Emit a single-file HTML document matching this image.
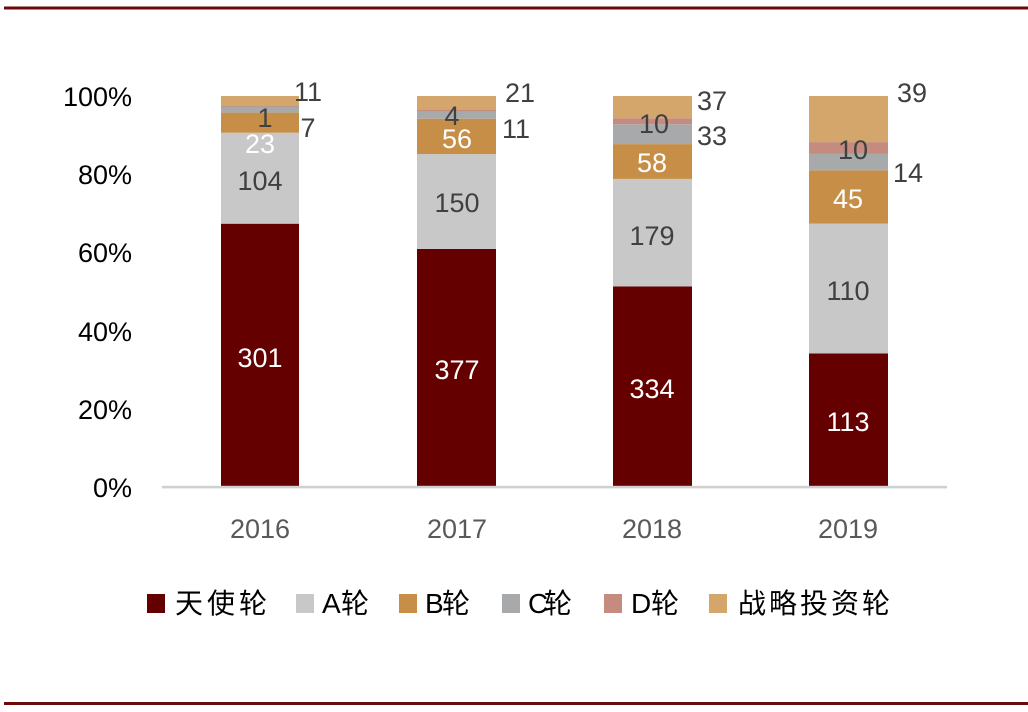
<!DOCTYPE html>
<html><head><meta charset="utf-8"><style>
html,body{margin:0;padding:0;background:#fff;}
svg{display:block;}
</style></head><body>
<svg width="1028" height="712" viewBox="0 0 1028 712" xmlns="http://www.w3.org/2000/svg">
<rect x="0" y="0" width="1028" height="712" fill="#fff"/>
<rect x="4" y="6.5" width="1024" height="3" fill="#6a0a0a"/>
<rect x="4" y="702" width="1024" height="3" fill="#6a0a0a"/>

<g font-family="Liberation Sans, sans-serif" font-size="27" fill="#000" text-anchor="end">
<text x="132" y="106">100%</text>
<text x="132" y="184">80%</text>
<text x="132" y="262">60%</text>
<text x="132" y="341">40%</text>
<text x="132" y="419">20%</text>
<text x="132" y="497">0%</text>
</g>

<!-- 2016 -->
<g>
<rect x="221" y="223.7" width="78" height="262.3" fill="#650000"/>
<rect x="221" y="132.7" width="78" height="91" fill="#c8c8c8"/>
<rect x="221" y="112.6" width="78" height="20.1" fill="#c78e48"/>
<rect x="221" y="106.5" width="78" height="6.1" fill="#a8a9aa"/>
<rect x="221" y="105.6" width="78" height="0.9" fill="#c48b7e"/>
<rect x="221" y="96" width="78" height="9.6" fill="#d4a66c"/>
</g>
<!-- 2017 -->
<g>
<rect x="417" y="248.9" width="79" height="237.1" fill="#650000"/>
<rect x="417" y="154.1" width="79" height="94.8" fill="#c8c8c8"/>
<rect x="417" y="118.7" width="79" height="35.4" fill="#c78e48"/>
<rect x="417" y="111.8" width="79" height="6.9" fill="#a8a9aa"/>
<rect x="417" y="109.3" width="79" height="2.5" fill="#c48b7e"/>
<rect x="417" y="96" width="79" height="13.3" fill="#d4a66c"/>
</g>
<!-- 2018 -->
<g>
<rect x="613" y="286.4" width="79" height="199.6" fill="#650000"/>
<rect x="613" y="178.9" width="79" height="107.5" fill="#c8c8c8"/>
<rect x="613" y="144.1" width="79" height="34.8" fill="#c78e48"/>
<rect x="613" y="124.2" width="79" height="19.9" fill="#a8a9aa"/>
<rect x="613" y="118.2" width="79" height="6" fill="#c48b7e"/>
<rect x="613" y="96" width="79" height="22.2" fill="#d4a66c"/>
</g>
<!-- 2019 -->
<g>
<rect x="809" y="353.5" width="79" height="132.5" fill="#650000"/>
<rect x="809" y="223.6" width="79" height="129.9" fill="#c8c8c8"/>
<rect x="809" y="170.4" width="79" height="53.2" fill="#c78e48"/>
<rect x="809" y="153.9" width="79" height="16.5" fill="#a8a9aa"/>
<rect x="809" y="142.1" width="79" height="11.8" fill="#c48b7e"/>
<rect x="809" y="96" width="79" height="46.1" fill="#d4a66c"/>
</g>

<rect x="162" y="485.8" width="785" height="2.6" fill="#d0d0d0"/>

<g font-family="Liberation Sans, sans-serif" font-size="27" text-anchor="middle">
<!-- 2016 -->
<text x="260" y="367" fill="#fff">301</text>
<text x="260" y="190" fill="#404040">104</text>
<text x="260" y="153" fill="#fff">23</text>
<text x="265" y="127" fill="#404040">1</text>
<text x="308" y="137" fill="#404040">7</text>
<text x="308" y="101" fill="#404040">11</text>
<!-- 2017 -->
<text x="457" y="379" fill="#fff">377</text>
<text x="457" y="212" fill="#404040">150</text>
<text x="457" y="148" fill="#fff">56</text>
<text x="452" y="125" fill="#404040">4</text>
<text x="516" y="138" fill="#404040">11</text>
<text x="520" y="102" fill="#404040">21</text>
<!-- 2018 -->
<text x="652" y="398" fill="#fff">334</text>
<text x="652" y="245" fill="#404040">179</text>
<text x="652" y="172" fill="#fff">58</text>
<text x="654" y="133" fill="#404040">10</text>
<text x="712" y="145" fill="#404040">33</text>
<text x="712" y="110" fill="#404040">37</text>
<!-- 2019 -->
<text x="848" y="431" fill="#fff">113</text>
<text x="848" y="300" fill="#404040">110</text>
<text x="848" y="208" fill="#fff">45</text>
<text x="853" y="159" fill="#404040">10</text>
<text x="908" y="182" fill="#404040">14</text>
<text x="912" y="102" fill="#404040">39</text>
</g>

<g font-family="Liberation Sans, sans-serif" font-size="27" fill="#595959" text-anchor="middle">
<text x="260" y="538">2016</text>
<text x="457" y="538">2017</text>
<text x="652" y="538">2018</text>
<text x="848" y="538">2019</text>
</g>

<g font-family="Liberation Sans, 'Noto Sans CJK SC', sans-serif" font-size="28" fill="#000">
<rect x="147" y="594" width="18" height="19" fill="#650000"/>
<text x="175" y="613" textLength="92" lengthAdjust="spacing">天使轮</text>
<rect x="296" y="594" width="18" height="19" fill="#c8c8c8"/>
<text x="322" y="613" textLength="47" lengthAdjust="spacing">A轮</text>
<rect x="399" y="594" width="18" height="19" fill="#c78e48"/>
<text x="425" y="613" textLength="45" lengthAdjust="spacing">B轮</text>
<rect x="502" y="594" width="18" height="19" fill="#a8a9aa"/>
<text x="528" y="613" textLength="44" lengthAdjust="spacing">C轮</text>
<rect x="604" y="594" width="18" height="19" fill="#c48b7e"/>
<text x="631" y="613" textLength="48" lengthAdjust="spacing">D轮</text>
<rect x="709" y="594" width="18" height="19" fill="#d4a66c"/>
<text x="738" y="613" textLength="152" lengthAdjust="spacing">战略投资轮</text>
</g>
</svg>
</body></html>
